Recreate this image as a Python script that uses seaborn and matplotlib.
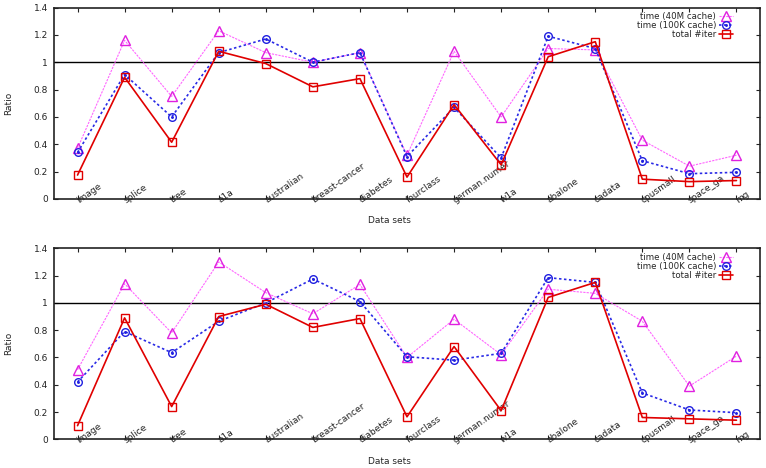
import numpy as np
import pandas as pd
import seaborn as sns
import matplotlib
matplotlib.use("Agg")
import matplotlib.pyplot as plt
from matplotlib.path import Path

datasets = ["image", "splice", "tree", "a1a", "australian", "breast-cancer", "diabetes",
            "fourclass", "german.numer", "w1a", "abalone", "cadata", "cpusmall", "space_ga", "mg"]

# top panel
top_40m = [0.37, 1.16, 0.75, 1.23, 1.07, 1.00, 1.07, 0.32, 1.08, 0.60, 1.10, 1.09, 0.43, 0.24, 0.32]
top_100k = [0.34, 0.91, 0.60, 1.07, 1.17, 1.00, 1.07, 0.31, 0.67, 0.30, 1.19, 1.10, 0.28, 0.185, 0.195]
top_iter = [0.175, 0.89, 0.415, 1.08, 0.99, 0.82, 0.88, 0.16, 0.69, 0.25, 1.04, 1.15, 0.145, 0.127, 0.135]

# bottom panel
bot_40m = [0.51, 1.14, 0.78, 1.30, 1.075, 0.92, 1.135, 0.60, 0.88, 0.62, 1.10, 1.07, 0.865, 0.39, 0.61]
bot_100k = [0.42, 0.79, 0.635, 0.865, 1.00, 1.175, 1.01, 0.605, 0.58, 0.63, 1.185, 1.15, 0.34, 0.215, 0.195]
bot_iter = [0.10, 0.89, 0.24, 0.90, 0.99, 0.82, 0.885, 0.165, 0.68, 0.21, 1.04, 1.15, 0.16, 0.15, 0.14]

series_names = ["time (40M cache)", "time (100K cache)", "total #iter"]

sns.set_theme(style="ticks")
plt.rcParams["font.family"] = ["DejaVu Sans"]

# circle with a dot in the middle (gnuplot style)
odot = Path.make_compound_path(Path.unit_circle(), Path.circle((0, 0), 0.2))

styles = [
    dict(color="#ff66ff", mec="#e020e0", marker="^", ms=6.5, lw=0.8, ls=(0, (2, 1))),
    dict(color="#2a2ae6", mec="#2020e0", marker=odot, ms=5.5, lw=1.2, ls=(0, (1.5, 1.5))),
    dict(color="#e00000", mec="#e00000", marker="s", ms=5.5, lw=1.2, ls="-"),
]

fig = plt.figure(figsize=(7.66, 4.68), dpi=100)
ax_top = fig.add_axes([54 / 766, (468 - 199) / 468, 706 / 766, 191.5 / 468])
ax_bot = fig.add_axes([54 / 766, (468 - 439.3) / 468, 706 / 766, 191 / 468])

fs = 6.5
for ax, vals in [(ax_top, [top_40m, top_100k, top_iter]), (ax_bot, [bot_40m, bot_100k, bot_iter])]:
    ax.axhline(1, color="black", lw=1, zorder=1)
    for name, v, st in zip(series_names, vals, styles):
        df = pd.DataFrame({"dataset": datasets, "ratio": v})
        sns.lineplot(data=df, x="dataset", y="ratio", ax=ax, sort=False, label=name,
                     color=st["color"], marker=st["marker"], markersize=st["ms"],
                     mec=st["mec"], mfc="none", mew=1.0, lw=st["lw"], ls=st["ls"], zorder=3)
    ax.set_xlim(-0.5, len(datasets) - 0.5)
    ax.set_ylim(0, 1.4)
    ax.set_yticks(np.arange(0, 1.41, 0.2))
    ax.set_yticklabels(["0", "0.2", "0.4", "0.6", "0.8", "1", "1.2", "1.4"])
    ax.tick_params(axis="both", direction="in", length=3, width=0.8, top=True, right=True,
                   labelsize=fs, colors="#222222")
    ax.tick_params(axis="y", pad=4.3)
    ax.tick_params(axis="x", pad=1.5)
    for lab in ax.get_xticklabels():
        lab.set_rotation(35)
        lab.set_ha("left")
        lab.set_va("center")
        lab.set_rotation_mode("anchor")
    for sp in ax.spines.values():
        sp.set_linewidth(1.2)
        sp.set_color("#222222")
    ax.set_xlabel("Data sets", fontsize=fs)
    ax.xaxis.set_label_coords(0.4745, -0.091)
    ax.set_ylabel("Ratio", fontsize=fs)
    ax.yaxis.set_label_coords(-0.0574, 0.5)
    ax.legend(loc="upper right", bbox_to_anchor=(0.962, 0.976), frameon=False, markerfirst=False,
              fontsize=6.2, labelspacing=0.0, handlelength=1.6, handletextpad=0.4,
              borderpad=0, borderaxespad=0)

fig.savefig("out.png", dpi=100)
